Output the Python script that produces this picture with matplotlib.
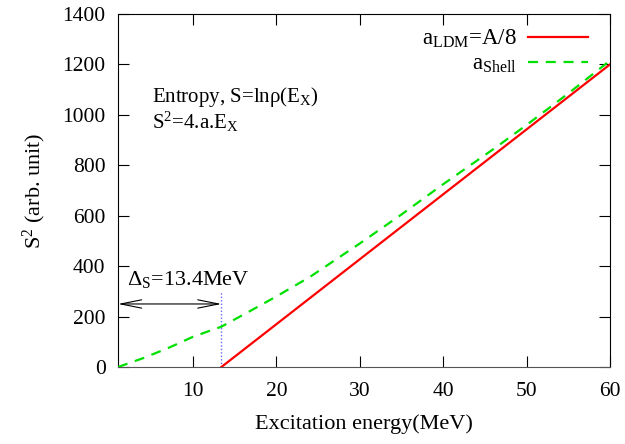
import matplotlib
matplotlib.use("Agg")
import matplotlib.pyplot as plt
import numpy as np

# Data
delta_s = 13.4
ldm_x = [13.4, 60]
ldm_y = [0, 1200]
shell_x = [1, 4, 7, 10, 13.4, 17, 20, 24, 30, 35, 40, 46.4, 50, 55, 60]
shell_y = [0, 35, 75, 120, 160, 225, 280, 357, 490, 605, 725, 873, 960, 1085, 1215]
xticks = [10, 20, 30, 40, 50, 60]
yticks = [0, 200, 400, 600, 800, 1000, 1200, 1400]

plt.rcParams['font.family'] = ['Liberation Serif', 'DejaVu Serif']
plt.rcParams['mathtext.fontset'] = 'custom'
plt.rcParams['mathtext.rm'] = 'Liberation Serif'
plt.rcParams['mathtext.it'] = 'Liberation Serif'

fig = plt.figure(figsize=(6.25, 4.44), dpi=100)
ax = fig.add_axes([0.1888, 0.1734, 0.976 - 0.1888, 0.9685 - 0.1734])

ax.plot(ldm_x, ldm_y, color='#ff0000', lw=1.6, label=r'a$_{\mathrm{LDM}}$=A/8', zorder=3)
ax.plot(shell_x, shell_y, color='#00e000', lw=1.6, dashes=(4.5, 3.5),
        label=r'a$_{\mathrm{Shell}}$', zorder=3)

# vertical dotted line at delta
ax.plot([delta_s, delta_s], [0, 300], color='#6666ff', lw=1.0, ls=(0, (1, 1.5)), zorder=2)
# double arrow
ax.annotate('', xy=(1, 250), xytext=(delta_s, 250),
            arrowprops=dict(arrowstyle='<->,head_length=1.5,head_width=0.3', color='black', lw=0.8,
                            shrinkA=0, shrinkB=0))
ax.text(2.1, 324, r'$\Delta_{\mathrm{S}}$=13.4MeV', fontsize=16, va='baseline', ha='left')

ax.text(5.1, 1050, r'Entropy, S=ln$\rho$(E$_{\mathrm{X}}$)', fontsize=15, va='baseline', ha='left')
ax.text(5.1, 945, r'S$^2$=4.a.E$_{\mathrm{X}}$', fontsize=15, va='baseline', ha='left')

ax.set_xlim(1, 60)
ax.set_ylim(0, 1400)
ax.set_xticks(xticks)
ax.set_yticks(yticks)
ax.tick_params(direction='in', length=8, width=0.8, top=True, right=True, labelsize=15.5)
ax.tick_params(axis='x', pad=11)
ax.tick_params(axis='y', pad=9)
ax.set_xlabel('Excitation energy(MeV)', fontsize=16, labelpad=9)
ax.set_ylabel(r'S$^2$ (arb. unit)', fontsize=16, labelpad=10)
for s in ax.spines.values():
    s.set_linewidth(0.8)
ax.spines['bottom'].set_color('#555555')

leg = ax.legend(loc='upper right', frameon=False, fontsize=16.5, handlelength=2.6,
                markerfirst=False, borderaxespad=0.0, borderpad=0.0, labelspacing=0.15,
                handletextpad=0.5, bbox_to_anchor=(0.955, 0.96))

fig.savefig('out.png', dpi=100)
